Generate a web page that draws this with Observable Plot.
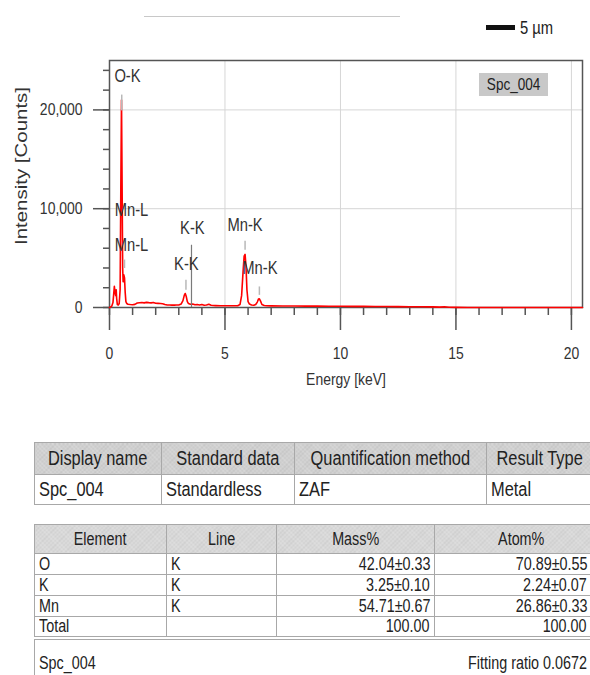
<!DOCTYPE html>
<html>
<head>
<meta charset="utf-8">
<script src="https://cdn.jsdelivr.net/npm/d3@7"></script>
<script src="https://cdn.jsdelivr.net/npm/@observablehq/plot@0.6"></script>
<style>
html, body { margin: 0; padding: 0; background: #fff; }
#page { position: relative; width: 590px; height: 675px; overflow: hidden;
  font-family: "Liberation Sans", Arial, sans-serif; color: #222; }
#chart { position: absolute; left: 0; top: 0; }
#topline { position: absolute; left: 144px; top: 16px; width: 256px; height: 0; border-top: 1px solid #c8c8c8; }
#scalebar { position: absolute; left: 486px; top: 25px; width: 29px; height: 5px; background: #111; }
#scaletext { position: absolute; left: 520px; top: 17px; font-size: 18px; line-height: 22px; color: #222; }
#spc { position: absolute; left: 479px; top: 73px; width: 69px; height: 23px; background: #c8c8c8;
  font-size: 16.5px; line-height: 23px; text-align: center; color: #222; }
.n { display: inline-block; transform: scaleX(0.82); transform-origin: left center; }
.n.c { transform-origin: center center; margin: 0 -60px; }
.n.r { transform-origin: right center; }
table { position: absolute; border-collapse: collapse; table-layout: fixed; }
td, th { border: 1.5px solid #a8a8a8; padding: 0 4px; white-space: nowrap; overflow: hidden; font-weight: normal; color: #222; }
th { background-color: #d0d0d0;
  background-image: repeating-linear-gradient(45deg, rgba(255,255,255,0.18) 0 1px, rgba(0,0,0,0) 1px 3px),
                    repeating-linear-gradient(-45deg, rgba(0,0,0,0.05) 0 1px, rgba(0,0,0,0) 1px 3px); }
#t1 { left: 34px; top: 442px; font-size: 20px; }
#t1 tr.h { height: 32px; }
#t1 tr.d { height: 30px; }
#t1 th { text-align: center; }
#t1 td { text-align: left; }
#t2 { left: 34px; top: 524px; font-size: 17.5px; }
#t2 tr.h { height: 29px; }
#t2 tr.d { height: 21px; }
#t2 tr.f { height: 38px; }
#t2 th { background-color: #d8d8d8; text-align: center; }
#t2 td { text-align: left; line-height: 19px; }
#t2 td.num { text-align: right; }
#t2 td.last { padding-right: 21px; }
#t2 tr.f td { border-top: 4px double #a8a8a8; vertical-align: bottom; padding-bottom: 3px; padding-right: 21px; }
#t2 .fr { float: right; }
</style>
</head>
<body>
<div id="page">
  <div id="chart"></div>
  <div id="topline"></div>
  <div id="scalebar"></div>
  <div id="scaletext"><span class="n">5 µm</span></div>
  <div id="spc"><span class="n c">Spc_004</span></div>
  <table id="t1"></table>
  <table id="t2"></table>
</div>
<script>
// ---------- spectrum data (keV, counts) ----------
const energy = [0.00,0.05,0.10,0.15,0.18,0.21,0.24,0.27,0.29,0.31,0.34,0.38,0.42,0.46,0.49,0.52,0.55,0.57,0.59,0.62,0.65,0.68,0.71,0.75,0.80,0.90,1.00,1.10,1.20,1.30,1.40,1.50,1.60,1.70,1.80,1.90,2.00,2.10,2.20,2.30,2.40,2.50,2.60,2.70,2.80,2.90,3.00,3.10,3.18,3.24,3.28,3.32,3.37,3.42,3.50,3.60,3.70,3.80,3.90,4.00,4.10,4.20,4.30,4.40,4.50,4.60,4.80,5.00,5.20,5.40,5.55,5.65,5.72,5.78,5.83,5.87,5.91,5.95,6.00,6.06,6.15,6.25,6.33,6.40,6.45,6.49,6.54,6.60,6.70,6.80,7.00,7.50,8.00,8.50,9.00,9.50,10.00,10.50,11.00,11.50,12.00,12.50,13.00,13.50,14.00,14.30,14.50,14.70,15.00,15.50,16.00,17.00,18.00,19.00,20.48];
const counts = [0,50,150,500,1300,2150,1500,1200,1800,900,300,250,400,1800,12000,21000,11000,4000,2600,3300,3000,1500,600,400,330,300,280,320,450,480,500,470,520,490,470,500,430,420,400,380,300,260,250,240,240,250,260,350,700,1250,1420,1150,600,400,330,360,280,300,250,300,230,250,330,220,200,190,180,175,170,170,180,300,1200,3500,5200,5380,4200,1800,600,350,250,230,300,550,850,880,650,300,200,170,160,155,150,140,135,130,120,115,110,100,95,90,80,70,60,40,80,20,10,5,5,0,0,0,0];

// ---------- peak markers ----------
const markerEnergy = [0.53, 0.65, 3.31, 3.55, 5.87, 6.49];
const markerLow    = [19900, 3950, 1750, 0, 5800, 1230];
const markerHigh   = [21500, 4800, 2750, 6300, 6700, 2080];
const markerKind   = ["peak", "peak", "peak", "line", "peak", "peak"];

// ---------- peak labels ----------
const labelText   = ["O-K", "Mn-L", "Mn-L", "K-K", "K-K", "Mn-K", "Mn-K"];
const labelEnergy = [0.78, 0.95, 0.95, 3.59, 3.33, 5.87, 6.51];
const labelCounts = [23400, 9800, 6300, 8000, 4350, 8300, 3950];

// ---------- axes ----------
const xMajorTicks = [0, 5, 10, 15, 20];
const xMinorTicks = [0,1,2,3,4,5,6,7,8,9,10,11,12,13,14,15,16,17,18,19,20];
const yMajorTicks = [0, 10000, 20000];
const yMinorTicks = [0,2000,4000,6000,8000,10000,12000,14000,16000,18000,20000,22000,24000];
const xLabel = "Energy [keV]";
const yLabel = "Intensity [Counts]";

// ---------- tables ----------
const t1Headers = ["Display name", "Standard data", "Quantification method", "Result Type"];
const t1Row     = ["Spc_004", "Standardless", "ZAF", "Metal"];
const t2Headers = ["Element", "Line", "Mass%", "Atom%"];
const t2Element = ["O", "K", "Mn", "Total"];
const t2Line    = ["K", "K", "K", ""];
const t2Mass    = ["42.04±0.33", "3.25±0.10", "54.71±0.67", "100.00"];
const t2Atom    = ["70.89±0.55", "2.24±0.07", "26.86±0.33", "100.00"];
const t2FooterLeft  = "Spc_004";
const t2FooterRight = "Fitting ratio 0.0672";

const spectrum = energy.map((e, i) => ({e, c: counts[i]}));
const markers = markerEnergy.map((e, i) => ({e, lo: markerLow[i], hi: markerHigh[i], kind: markerKind[i]}));
const labels = labelText.map((t, i) => ({t, e: labelEnergy[i], c: labelCounts[i]}));

const FONT = '"Liberation Sans", Arial, sans-serif';
const NARROW = 0.82;

const plot = Plot.plot({
  width: 590, height: 400,
  marginLeft: 109, marginRight: 8, marginTop: 60, marginBottom: 93,
  style: {fontFamily: FONT, fontSize: "17px", color: "#333", background: "transparent"},
  x: {domain: [0, 20.48]},
  y: {domain: [0, 25000]},
  marks: [
    Plot.gridX(xMajorTicks.filter(d => d > 0), {stroke: "#d6d6d6", strokeOpacity: 1, strokeWidth: 1}),
    Plot.gridY(yMajorTicks.filter(d => d > 0), {stroke: "#d6d6d6", strokeOpacity: 1, strokeWidth: 1}),
    Plot.frame({stroke: "#555", strokeWidth: 1.5}),
    Plot.axisX(xMinorTicks, {tickSize: 8, fill: "none", label: null, stroke: "#555", strokeWidth: 1.5}),
    Plot.axisX(xMajorTicks, {tickSize: 23, tickPadding: 16, label: null, stroke: "#555", strokeWidth: 1.5, fill: "#333", tickFormat: d => String(d)}),
    Plot.axisY(yMinorTicks, {tickSize: 6, fill: "none", label: null, stroke: "#555", strokeWidth: 1.5}),
    Plot.axisY(yMajorTicks, {tickSize: 16, tickPadding: 11, label: null, stroke: "#555", strokeWidth: 1.5, fill: "#333", tickFormat: d3.format(",")}),
    Plot.line(spectrum, {x: "e", y: "c", stroke: "#ff0000", strokeWidth: 1.6}),
    Plot.ruleX(markers.filter(d => d.kind === "peak"), {x: "e", y1: "lo", y2: "hi", stroke: "#b8b8b8", strokeWidth: 1.5}),
    Plot.ruleX(markers.filter(d => d.kind === "line"), {x: "e", y1: "lo", y2: "hi", stroke: "#7a7a7a", strokeWidth: 1.2}),
    Plot.text(labels, {x: "e", y: "c", text: "t", fill: "#333", fontSize: 18}),
    Plot.text([yLabel], {frameAnchor: "left", textAnchor: "middle", text: d => d, rotate: -90, dx: -88, dy: -18, fill: "#333", fontSize: 17}),
    Plot.text([xLabel], {frameAnchor: "bottom", text: d => d, dy: 77, fill: "#333", fontSize: 17})
  ]
});
document.getElementById("chart").appendChild(plot);

// condense SVG texts horizontally (reference uses a narrow face)
plot.querySelectorAll("text").forEach(t => {
  if (t.querySelector("tspan")) return;
  const w = t.getComputedTextLength();
  if (!w) return;
  const L = t.textContent === yLabel ? 158 : w * NARROW;
  const anchor = getComputedStyle(t).textAnchor;
  const x = parseFloat(t.getAttribute("x") || "0");
  let nx = x;
  if (anchor === "middle") nx = x - L / 2;
  else if (anchor === "end") nx = x - L;
  t.setAttribute("x", nx);
  t.setAttribute("text-anchor", "start");
  t.style.textAnchor = "start";
  t.setAttribute("textLength", L);
  t.setAttribute("lengthAdjust", "spacingAndGlyphs");
});

// ---------- build tables ----------
function el(tag, attrs, text) {
  const n = document.createElement(tag);
  if (attrs) for (const k in attrs) n.setAttribute(k, attrs[k]);
  if (text != null) n.textContent = text;
  return n;
}
function cell(tag, text, align, attrs) {
  const c = el(tag, attrs);
  if (text) c.appendChild(el("span", {class: "n " + align}, text));
  return c;
}
const t1 = document.getElementById("t1");
const t1Widths = [127, 133, 192, 106];
const cg1 = el("colgroup");
t1Widths.forEach(w => cg1.appendChild(el("col", {style: `width:${w}px`})));
t1.appendChild(cg1);
t1.style.width = t1Widths.reduce((a, b) => a + b, 0) + "px";
const h1 = el("tr", {class: "h"});
t1Headers.forEach(h => h1.appendChild(cell("th", h, "c")));
t1.appendChild(h1);
const r1 = el("tr", {class: "d"});
t1Row.forEach(v => r1.appendChild(cell("td", v, "")));
t1.appendChild(r1);

const t2 = document.getElementById("t2");
const t2Widths = [132, 110, 158, 174];
const cg2 = el("colgroup");
t2Widths.forEach(w => cg2.appendChild(el("col", {style: `width:${w}px`})));
t2.appendChild(cg2);
t2.style.width = t2Widths.reduce((a, b) => a + b, 0) + "px";
const h2 = el("tr", {class: "h"});
t2Headers.forEach(h => h2.appendChild(cell("th", h, "c")));
t2.appendChild(h2);
t2Element.forEach((name, i) => {
  const r = el("tr", {class: "d"});
  r.appendChild(cell("td", name, ""));
  r.appendChild(cell("td", t2Line[i], ""));
  r.appendChild(cell("td", t2Mass[i], "r", {class: "num"}));
  r.appendChild(cell("td", t2Atom[i], "r", {class: "num last"}));
  t2.appendChild(r);
});
const f = el("tr", {class: "f"});
const fc = el("td", {colspan: 4});
fc.appendChild(el("span", {class: "n r fr"}, t2FooterRight));
fc.appendChild(el("span", {class: "n"}, t2FooterLeft));
f.appendChild(fc);
t2.appendChild(f);
</script>
</body>
</html>
